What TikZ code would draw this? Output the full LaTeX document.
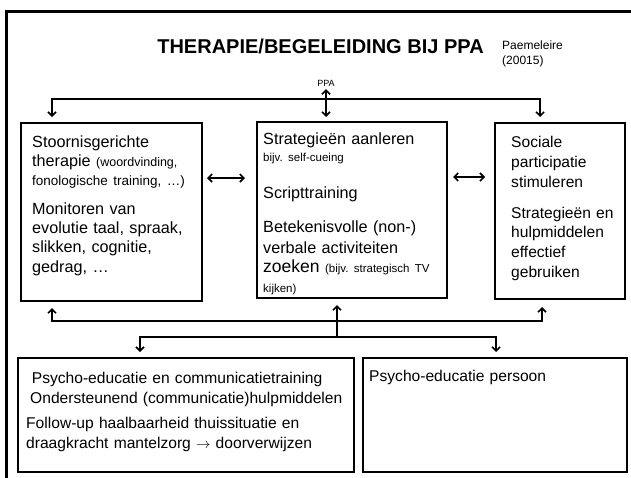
\documentclass[tikz,border=0pt]{standalone}
\usepackage{fontspec}
\setmainfont{Liberation Sans}
\usetikzlibrary{arrows.meta,calc}
\frenchspacing

\newcommand{\klein}{\fontsize{12.5}{19.3}\selectfont}
\newcommand{\kleiner}{\fontsize{11.5}{19.3}\selectfont}

\begin{document}
\begin{tikzpicture}[x=1pt,y=-1pt,
    kader/.style={draw, line width=1.2pt, inner sep=0pt, outer sep=0pt, anchor=north west},
    tekst/.style={anchor=north west, inner sep=0pt, text width=340pt, align=left, font=\fontsize{15.6}{19.3}\selectfont},
    verb/.style={line width=1.6pt, >={Straight Barb[length=4pt,width=8pt]}}]
    \useasboundingbox (0,0) rectangle (631,477);
    \fill[white] (0,0) rectangle (631,477);

    % rand
    \draw[line width=3.5pt] (6.5,480) -- (6.5,11.5) -- (635,11.5);

    % titel
    \node[anchor=base, font=\fontsize{20}{24}\selectfont\bfseries] (titel) at (320.5,53) {THERAPIE/BEGELEIDING BIJ PPA};
    \node[anchor=north west, inner sep=0pt, align=left, font=\fontsize{12}{15}\selectfont] (bron) at (502,38.5) {\strut Paemeleire\\(20015)};
    \node[anchor=base, inner sep=0pt, font=\fontsize{9}{11}\selectfont] (ppa) at (326,86) {PPA};

    % kaders boven
    \node[kader, minimum width=181pt, minimum height=178pt] (stoor) at (21,123) {};
    \node[kader, minimum width=190pt, minimum height=176pt] (strat) at (257,122) {};
    \node[kader, minimum width=130pt, minimum height=176pt] (soc) at (495,123) {};

    % kaders onder
    \node[kader, minimum width=336pt, minimum height=114pt] (psy) at (18,358) {};
    \node[kader, minimum width=264pt, minimum height=114pt] (pers) at (363,358) {};

    % teksten
    \node[tekst, font=\fontsize{16.2}{19.3}\selectfont] (stoortekst) at ($(stoor.north west)+(11,10.5)$) {\strut Stoornisgerichte\\
        therapie {\klein(woordvinding,}\\
        {\fontsize{13.5}{19.3}\selectfont fonologische training, …)}\\[9pt]
        Monitoren van\\
        evolutie taal, spraak,\\
        slikken, cognitie,\\
        gedrag, …};
    \node[tekst, font=\fontsize{16.2}{19.3}\selectfont] (strattekst) at ($(strat.north west)+(6,8.5)$) {\strut Strategieën aanleren\\[-2.3pt]
        {\kleiner bijv. self-cueing}\\[17.7pt]
        Scripttraining\\[14.7pt]
        Betekenisvolle (non-)\\[2pt]
        verbale activiteiten\\
        {\fontsize{17.5}{19.3}\selectfont zoeken} {\kleiner(bijv. strategisch TV}\\
        {\kleiner kijken)}};
    \node[tekst, font=\fontsize{15.6}{19.8}\selectfont] (soctekst) at ($(soc.north west)+(16,10.5)$) {\strut Sociale\\
        participatie\\
        stimuleren\\[11.2pt]
        Strategieën en\\
        hulpmiddelen\\
        effectief\\
        gebruiken};
    \node[tekst] (psytekst) at ($(psy.north west)+(8,11.5)$) {\strut\hspace*{5.7pt}Psycho-educatie en communicatietraining\\[0.7pt]
        \hspace*{4pt}Ondersteunend (communicatie)hulpmiddelen\\[5.7pt]
        Follow-up haalbaarheid thuissituatie en\\[0.7pt]
        draagkracht mantelzorg $\rightarrow$ doorverwijzen};
    \node[tekst] (perstekst) at ($(pers.north west)+(6,9.5)$) {\strut Psycho-educatie persoon};

    % verbindingen boven
    \coordinate (bovenL) at (52,99);
    \coordinate (bovenR) at (540,99);
    \draw[verb,<->] ($(bovenL |- stoor.north)+(0,-6)$) -- (bovenL) -- (bovenR) -- ($(bovenR |- soc.north)+(0,-6)$);
    \draw[verb,<->] ($(ppa.south)+(0,3)$) -- ($(ppa.south |- strat.north)+(0,-5)$);
    \draw[verb,<->] ($(stoor.north east)+(5,55)$) -- ($(strat.north west)+(-12,56)$);
    \draw[verb,<->] ($(strat.north east)+(6,55)$) -- ($(soc.north west)+(-10,54)$);

    % verbindingen onder
    \coordinate (onderL) at (52,321);
    \coordinate (onderR) at (542,321);
    \draw[verb,<->] ($(onderL |- stoor.south)+(0,7)$) -- (onderL) -- (onderR) -- ($(onderR |- soc.south)+(0,8)$);
    \coordinate (splitM) at (337,337);
    \draw[verb,->] (splitM) -- ($(splitM |- strat.south)+(0,7)$);
    \coordinate (splitL) at (140,337);
    \coordinate (splitR) at (496,337);
    \draw[verb,<->] ($(splitL |- psy.north)+(0,-6)$) -- (splitL) -- (splitR) -- ($(splitR |- pers.north)+(0,-6)$);
\end{tikzpicture}
\end{document}
